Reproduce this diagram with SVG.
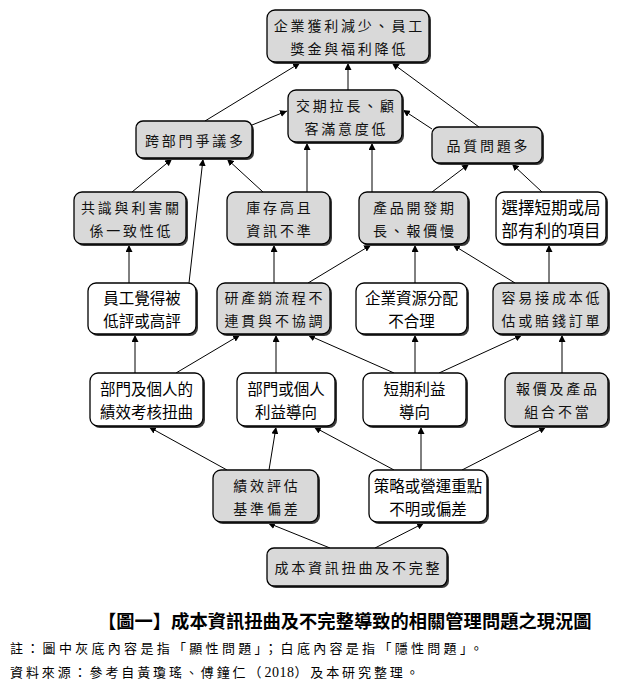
<svg xmlns="http://www.w3.org/2000/svg" width="629" height="689" viewBox="0 0 629 689">
<defs>
<marker id="ah" viewBox="0 0 10 10" refX="10" refY="5" markerWidth="7" markerHeight="7" markerUnits="userSpaceOnUse" orient="auto">
<path d="M0,0 L10,5 L0,10 z" fill="#000"/>
</marker>
</defs>
<style>
.sh{fill:#3a3a3a;}
.g{fill:#d9d9d9;stroke:#000;stroke-width:1.3;}
.w{fill:#fff;stroke:#000;stroke-width:1.3;}
.tg{font-family:"Noto Sans CJK TC","Noto Sans CJK JP",sans-serif;font-size:14px;letter-spacing:2.8px;fill:#111;text-anchor:middle;dominant-baseline:central;}
.tw{font-family:"Noto Sans CJK TC","Noto Sans CJK JP",sans-serif;font-size:15.5px;fill:#000;text-anchor:middle;dominant-baseline:central;}
.ln{stroke:#000;stroke-width:1;fill:none;marker-end:url(#ah);}
.cap{font-family:"Noto Sans CJK TC","Noto Sans CJK JP",sans-serif;font-size:18.3px;font-weight:700;fill:#000;}
.note{font-family:"Noto Sans CJK TC","Noto Sans CJK JP",sans-serif;font-size:13px;letter-spacing:3.3px;fill:#000;}
</style>
<rect width="629" height="689" fill="#fff"/>

<g id="connectors">
<line class="ln" x1="205" y1="121" x2="300" y2="63"/>
<line class="ln" x1="348" y1="90" x2="348" y2="63"/>
<line class="ln" x1="479" y1="127" x2="392" y2="63"/>
<line class="ln" x1="252" y1="125" x2="287" y2="111"/>
<line class="ln" x1="432" y1="129" x2="403" y2="110"/>
<line class="ln" x1="307" y1="192" x2="307" y2="143"/>
<line class="ln" x1="372" y1="192" x2="372" y2="143"/>
<line class="ln" x1="132" y1="192" x2="172" y2="159"/>
<line class="ln" x1="189" y1="283" x2="203" y2="159"/>
<line class="ln" x1="263" y1="192" x2="227" y2="159"/>
<line class="ln" x1="432" y1="192" x2="469" y2="164"/>
<line class="ln" x1="542" y1="192" x2="512" y2="164"/>
<line class="ln" x1="129" y1="283" x2="129" y2="245"/>
<line class="ln" x1="274" y1="283" x2="274" y2="245"/>
<line class="ln" x1="308" y1="283" x2="371" y2="245"/>
<line class="ln" x1="415" y1="283" x2="415" y2="245"/>
<line class="ln" x1="515" y1="283" x2="453" y2="245"/>
<line class="ln" x1="549" y1="283" x2="549" y2="245"/>
<line class="ln" x1="135" y1="373" x2="135" y2="335"/>
<line class="ln" x1="176" y1="373" x2="240" y2="335"/>
<line class="ln" x1="276" y1="373" x2="276" y2="335"/>
<line class="ln" x1="394" y1="373" x2="308" y2="335"/>
<line class="ln" x1="415" y1="373" x2="415" y2="335"/>
<line class="ln" x1="439" y1="373" x2="522" y2="335"/>
<line class="ln" x1="562" y1="373" x2="562" y2="335"/>
<line class="ln" x1="227" y1="470" x2="149" y2="427"/>
<line class="ln" x1="269" y1="470" x2="276" y2="427"/>
<line class="ln" x1="394" y1="470" x2="314" y2="427"/>
<line class="ln" x1="421" y1="470" x2="421" y2="427"/>
<line class="ln" x1="462" y1="470" x2="546" y2="427"/>
<line class="ln" x1="330" y1="548" x2="268" y2="523"/>
<line class="ln" x1="375" y1="548" x2="424" y2="523"/>
</g>

<g id="nA"><rect class="sh" x="269" y="12" width="162" height="52" rx="8"/><rect class="g" x="267" y="10" width="162" height="52" rx="8"/>
<text class="tg" x="349.4" y="25">企業獲利減少、員工</text><text class="tg" x="349.4" y="48">獎金與福利降低</text></g>
<g id="nB"><rect class="sh" x="290" y="92" width="114" height="52" rx="8"/><rect class="g" x="288" y="90" width="114" height="52" rx="8"/>
<text class="tg" x="346.4" y="105">交期拉長、顧</text><text class="tg" x="346.4" y="128">客滿意度低</text></g>
<g id="nC"><rect class="sh" x="138" y="123" width="116" height="37" rx="7"/><rect class="g" x="136" y="121" width="116" height="37" rx="7"/>
<text class="tg" x="195.4" y="139.5">跨部門爭議多</text></g>
<g id="nD"><rect class="sh" x="434" y="129" width="110" height="36" rx="7"/><rect class="g" x="432" y="127" width="110" height="36" rx="7"/>
<text class="tg" x="488.4" y="145">品質問題多</text></g>

<g id="nE"><rect class="sh" x="76" y="194" width="112" height="52" rx="8"/><rect class="g" x="74" y="192" width="112" height="52" rx="8"/>
<text class="tg" x="131.4" y="206.5">共識與利害關</text><text class="tg" x="131.4" y="229.5">係一致性低</text></g>
<g id="nF"><rect class="sh" x="229" y="194" width="103" height="52" rx="8"/><rect class="g" x="227" y="192" width="103" height="52" rx="8"/>
<text class="tg" x="279.9" y="206.5">庫存高且</text><text class="tg" x="279.9" y="229.5">資訊不準</text></g>
<g id="nG"><rect class="sh" x="361" y="194" width="109" height="52" rx="8"/><rect class="g" x="359" y="192" width="109" height="52" rx="8"/>
<text class="tg" x="414.9" y="206.5">產品開發期</text><text class="tg" x="414.9" y="229.5">長、報價慢</text></g>
<g id="nH"><rect class="sh" x="498" y="194" width="110" height="52" rx="8"/><rect class="w" x="496" y="192" width="110" height="52" rx="8"/>
<text class="tw" x="551" y="206.5" style="font-size:16.5px">選擇短期或局</text><text class="tw" x="551" y="229.5" style="font-size:16.5px">部有利的項目</text></g>

<g id="nI"><rect class="sh" x="90" y="285" width="108" height="51" rx="8"/><rect class="w" x="88" y="283" width="108" height="51" rx="8"/>
<text class="tw" x="142" y="297">員工覺得被</text><text class="tw" x="142" y="320">低評或高評</text></g>
<g id="nJ"><rect class="sh" x="219" y="285" width="113" height="51" rx="8"/><rect class="g" x="217" y="283" width="113" height="51" rx="8"/>
<text class="tg" x="274.9" y="297">研產銷流程不</text><text class="tg" x="274.9" y="320">連貫與不協調</text></g>
<g id="nK"><rect class="sh" x="358" y="285" width="111" height="51" rx="8"/><rect class="w" x="356" y="283" width="111" height="51" rx="8"/>
<text class="tw" x="411.5" y="297">企業資源分配</text><text class="tw" x="411.5" y="320">不合理</text></g>
<g id="nL"><rect class="sh" x="495" y="285" width="115" height="51" rx="8"/><rect class="g" x="493" y="283" width="115" height="51" rx="8"/>
<text class="tg" x="551.9" y="297">容易接成本低</text><text class="tg" x="551.9" y="320">估或賠錢訂單</text></g>

<g id="nM"><rect class="sh" x="92" y="375" width="113" height="53" rx="8"/><rect class="w" x="90" y="373" width="113" height="53" rx="8"/>
<text class="tw" x="146.5" y="388">部門及個人的</text><text class="tw" x="146.5" y="411">績效考核扭曲</text></g>
<g id="nN"><rect class="sh" x="239" y="375" width="98" height="53" rx="8"/><rect class="w" x="237" y="373" width="98" height="53" rx="8"/>
<text class="tw" x="286" y="388">部門或個人</text><text class="tw" x="286" y="411">利益導向</text></g>
<g id="nO"><rect class="sh" x="365" y="375" width="103" height="53" rx="8"/><rect class="w" x="363" y="373" width="103" height="53" rx="8"/>
<text class="tw" x="414.5" y="388">短期利益</text><text class="tw" x="414.5" y="411">導向</text></g>
<g id="nP"><rect class="sh" x="507" y="375" width="103" height="53" rx="8"/><rect class="g" x="505" y="373" width="103" height="53" rx="8"/>
<text class="tg" x="557.9" y="388">報價及產品</text><text class="tg" x="557.9" y="411">組合不當</text></g>

<g id="nQ"><rect class="sh" x="215" y="472" width="105" height="52" rx="8"/><rect class="g" x="213" y="470" width="105" height="52" rx="8"/>
<text class="tg" x="266.9" y="484.5">績效評估</text><text class="tg" x="266.9" y="507.5">基準偏差</text></g>
<g id="nR"><rect class="sh" x="371" y="472" width="118" height="52" rx="8"/><rect class="w" x="369" y="470" width="118" height="52" rx="8"/>
<text class="tw" x="428" y="484.5">策略或營運重點</text><text class="tw" x="428" y="507.5">不明或偏差</text></g>
<g id="nS"><rect class="sh" x="269" y="550" width="180" height="38" rx="7"/><rect class="g" x="267" y="548" width="180" height="38" rx="7"/>
<text class="tg" x="358.4" y="567">成本資訊扭曲及不完整</text></g>

<g id="caption">
<text class="cap" x="98" y="628">【圖一】成本資訊扭曲及不完整導致的相關管理問題之現況圖</text>
<text class="note" x="10" y="653">註：圖中灰底內容是指「顯性問題」；白底內容是指「隱性問題」。</text>
<text class="note" x="10" y="677" style="letter-spacing:2.9px">資料來源：參考自黃瓊瑤、傅鐘仁（<tspan style="font-family:'Liberation Serif',serif;font-size:14px;letter-spacing:0.5px">2018</tspan>）及本研究整理。</text>
</g>
</svg>
